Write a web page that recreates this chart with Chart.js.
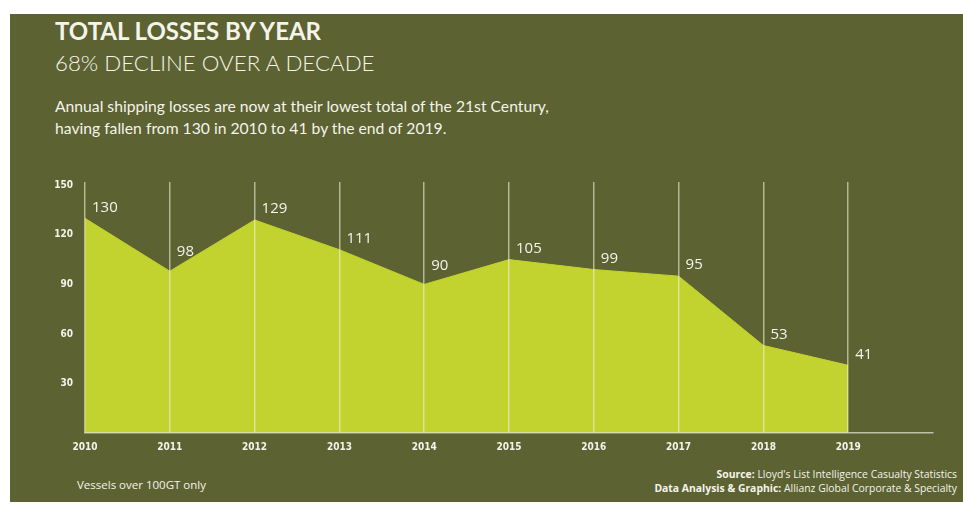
<!DOCTYPE html>
<html>
<head>
<meta charset="utf-8">
<script src="https://cdn.jsdelivr.net/npm/chart.js@4"></script>
<style>
  html, body { margin: 0; padding: 0; background: #fff; }
  body { width: 963px; height: 508px; position: relative; overflow: hidden; }
  #panel { position: absolute; left: 10px; top: 14px; width: 953px; height: 488px; background: #5c6232; }
  .txt { position: absolute; color: #f4f4ea; white-space: nowrap; }
  #title { left: 55px; top: 16px; font: bold 24px Lato, sans-serif; }
  #subtitle { left: 55px; top: 49px; font: 300 22.3px Lato, sans-serif; }
  #intro { left: 55px; top: 95px; font: 15.7px Lato, sans-serif; line-height: 22px; }
  #note { left: 77px; top: 477px; font: 11.5px "Open Sans", sans-serif; }
  #source { right: 6px; top: 467px; font: 10.4px "Open Sans", sans-serif; text-align: right; line-height: 14px; }
  #wrap { position: absolute; left: 0; top: 0; width: 963px; height: 508px; }
</style>
</head>
<body>
<div id="panel"></div>
<div class="txt" id="title">TOTAL LOSSES BY YEAR</div>
<div class="txt" id="subtitle">68% DECLINE OVER A DECADE</div>
<div class="txt" id="intro">Annual shipping losses are now at their lowest total of the 21st Century,<br>having fallen from 130 in 2010 to 41 by the end of 2019.</div>
<div class="txt" id="note">Vessels over 100GT only</div>
<div class="txt" id="source"><b>Source:</b> Lloyd's List Intelligence Casualty Statistics<br><b>Data Analysis &amp; Graphic:</b> Allianz Global Corporate &amp; Specialty</div>
<div id="wrap"><canvas id="lossChart"></canvas></div>
<script>
// losses per year (vessels over 100GT)
const years = [2010, 2011, 2012, 2013, 2014, 2015, 2016, 2017, 2018, 2019];
const losses = [130, 98, 129, 111, 90, 105, 99, 95, 53, 41];
const yTicks = [30, 60, 90, 120, 150];

const valueLabels = {
    id: 'valueLabels',
    afterDatasetsDraw(chart) {
        const ctx = chart.ctx;
        const meta = chart.getDatasetMeta(0);
        ctx.save();
        ctx.font = '15px "Open Sans", sans-serif';
        ctx.fillStyle = '#f4f4ea';
        ctx.textBaseline = 'middle';
        ctx.textAlign = 'left';
        meta.data.forEach((pt, i) => {
            const v = losses[i];
            const isLow = i > 0 && i < losses.length - 1 && v < losses[i - 1] && v < losses[i + 1];
            ctx.fillText(String(v), pt.x + 7, pt.y - (isLow ? 19 : 11));
        });
        ctx.restore();
    }
};

const ctx = document.getElementById('lossChart').getContext('2d');
new Chart(ctx, {
    type: 'line',
    data: {
        datasets: [{
            data: years.map((y, i) => ({ x: y, y: losses[i] })),
            fill: 'origin',
            backgroundColor: '#c2d22e',
            borderColor: '#c2d22e',
            borderWidth: 1,
            pointRadius: 0,
            tension: 0
        }]
    },
    options: {
        responsive: true,
        maintainAspectRatio: false,
        animation: false,
        layout: { padding: { left: 30, right: 30, top: 182, bottom: 50 } },
        plugins: { legend: { display: false }, tooltip: { enabled: false } },
        scales: {
            x: {
                type: 'linear',
                min: 2010,
                max: 2020,
                afterFit: s => { s.height = 25; },
                ticks: {
                    stepSize: 1,
                    padding: 8,
                    color: '#f4f4ea',
                    font: { family: '"Liberation Sans Narrow", "DejaVu Sans Condensed", sans-serif', size: 10, weight: 'bold' },
                    callback: v => (v === 2020 ? '' : String(v))
                },
                grid: {
                    z: 1,
                    drawTicks: false,
                    lineWidth: 1.5,
                    color: c => (c.tick && c.tick.value === 2020 ? 'rgba(0,0,0,0)' : 'rgba(240,240,215,0.6)')
                },
                border: { display: true, z: 1, color: 'rgba(225,225,205,0.75)', width: 1.5 }
            },
            y: {
                min: 0,
                max: 152,
                afterFit: s => { s.width = 55; },
                afterBuildTicks: s => { s.ticks = yTicks.map(v => ({ value: v })); },
                ticks: {
                    padding: 12,
                    color: '#f4f4ea',
                    font: { family: '"Liberation Sans Narrow", "DejaVu Sans Condensed", sans-serif', size: 10, weight: 'bold' }
                },
                grid: { display: false, drawTicks: false },
                border: { display: false }
            }
        }
    },
    plugins: [valueLabels]
});
</script>
</body>
</html>
